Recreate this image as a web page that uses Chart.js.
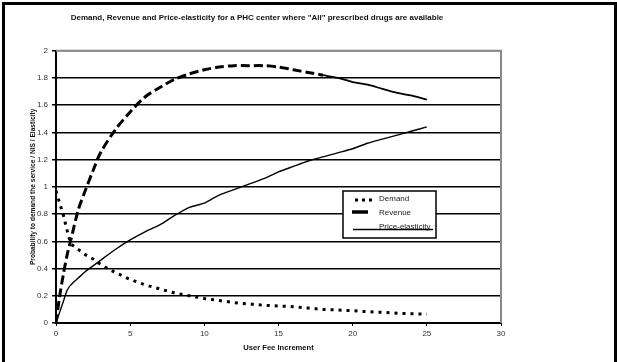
<!DOCTYPE html>
<html>
<head>
<meta charset="utf-8">
<script src="https://cdn.jsdelivr.net/npm/chart.js@4.4.1/dist/chart.umd.min.js"></script>
<style>
  html, body { margin: 0; padding: 0; background: #fff; }
  #wrap { position: relative; width: 617px; height: 362px; overflow: hidden; }
  #frame {
    position: absolute; left: 2px; top: 2px; width: 615px; height: 380px;
    box-sizing: border-box; border: 3px solid #000; pointer-events: none;
  }
  canvas { position: absolute; left: 0; top: 0; }
</style>
</head>
<body>
<div id="wrap">
  <canvas id="chart" width="617" height="362"></canvas>
  <div id="frame"></div>
</div>
<script>
const titleText = 'Demand, Revenue and Price-elasticity for a PHC center where "All" prescribed drugs are available';
const xTitle = "User Fee Increment";
const yTitle = "Probability to demand the service / NIS / Elasticity";

const feeSteps = [0, 0.25, 0.5, 0.75, 1, 1.5, 2, 2.5, 3, 4, 5, 6, 7, 8, 9, 10,
  11, 12, 13, 14, 15, 16, 17, 18, 19, 20, 21, 22, 23, 24, 25];
const demand = [0.97, 0.88, 0.79, 0.68, 0.58, 0.54, 0.5, 0.47, 0.43, 0.37, 0.32,
  0.28, 0.25, 0.22, 0.2, 0.18, 0.165, 0.15, 0.14, 0.13, 0.125, 0.12, 0.11, 0.1,
  0.095, 0.09, 0.083, 0.078, 0.072, 0.068, 0.065];
const revenue = [0, 0.2, 0.36, 0.5, 0.61, 0.83, 0.98, 1.12, 1.25, 1.42, 1.55,
  1.66, 1.73, 1.79, 1.83, 1.86, 1.88, 1.89, 1.89, 1.89, 1.88, 1.86, 1.84, 1.82,
  1.8, 1.77, 1.75, 1.72, 1.69, 1.67, 1.64];
const elasticity = [0, 0.08, 0.16, 0.24, 0.28, 0.33, 0.38, 0.42, 0.46, 0.54, 0.61,
  0.67, 0.72, 0.79, 0.85, 0.88, 0.94, 0.98, 1.02, 1.06, 1.11, 1.15, 1.19, 1.22,
  1.25, 1.28, 1.32, 1.35, 1.38, 1.41, 1.44];
const yTickLabels = ["0", "0.2", "0.4", "0.6", "0.8", "1", "1.2", "1.4", "1.6", "1.8", "2"];
const legendLabels = ["Demand", "Revenue", "Price-elasticity"];

function pts(vals) {
  return vals.map((v, i) => ({ x: feeSteps[i], y: v }));
}

// grey plot border on top/right, plus the boxed legend inside the plot
const extras = {
  id: "extras",
  afterDatasetsDraw(chart) {
    const ctx = chart.ctx;
    const a = chart.chartArea;
    ctx.save();
    ctx.strokeStyle = "#888";
    ctx.lineWidth = 2;
    ctx.beginPath();
    ctx.moveTo(a.left, a.top);
    ctx.lineTo(a.right, a.top);
    ctx.lineTo(a.right, a.bottom);
    ctx.stroke();

    const lx = 343, ly = 191, lw = 93, lh = 47;
    ctx.fillStyle = "#fff";
    ctx.fillRect(lx, ly, lw, lh);
    ctx.strokeStyle = "#000";
    ctx.lineWidth = 1.5;
    ctx.strokeRect(lx, ly, lw, lh);

    const rows = [200, 214, 228];
    ctx.strokeStyle = "#000";
    // demand
    ctx.lineWidth = 3;
    ctx.setLineDash([3, 4]);
    ctx.beginPath();
    ctx.moveTo(355, rows[0]);
    ctx.lineTo(376, rows[0]);
    ctx.stroke();
    // revenue
    ctx.setLineDash([]);
    ctx.lineWidth = 3.5;
    ctx.beginPath();
    ctx.moveTo(352, rows[1] - 2);
    ctx.lineTo(368, rows[1] - 2);
    ctx.stroke();
    // price-elasticity
    ctx.lineWidth = 1.5;
    ctx.beginPath();
    ctx.moveTo(353, rows[2] + 1.5);
    ctx.lineTo(433, rows[2] + 1.5);
    ctx.stroke();

    ctx.fillStyle = "#222";
    ctx.font = "8px 'Liberation Sans', Arial, sans-serif";
    ctx.textBaseline = "middle";
    legendLabels.forEach((t, i) => ctx.fillText(t, 379, rows[i] - 1));
    ctx.restore();
  }
};

const ctx = document.getElementById("chart").getContext("2d");
new Chart(ctx, {
  type: "line",
  data: {
    datasets: [
      {
        label: legendLabels[0],
        data: pts(demand),
        borderColor: "#000",
        borderWidth: 3,
        borderDash: [3, 5],
        borderCapStyle: "butt",
        pointRadius: 0,
        tension: 0
      },
      {
        label: legendLabels[1],
        data: pts(revenue),
        borderColor: "#000",
        borderWidth: 3,
        borderDash: [9, 4],
        pointRadius: 0,
        tension: 0.3,
        segment: {
          borderDash: c => (c.p0.parsed.x >= 18 ? [] : [9, 4]),
          borderWidth: c => (c.p0.parsed.x >= 18 ? 1.8 : 3)
        }
      },
      {
        label: legendLabels[2],
        data: pts(elasticity),
        borderColor: "#000",
        borderWidth: 1.4,
        pointRadius: 0,
        tension: 0.2
      }
    ]
  },
  options: {
    responsive: false,
    animation: false,
    layout: { padding: { left: 13, right: 116, top: 0, bottom: 0 } },
    plugins: {
      legend: { display: false },
      tooltip: { enabled: false },
      title: {
        display: true,
        text: titleText,
        color: "#111",
        font: { family: "'Liberation Sans', Arial, sans-serif", size: 8, weight: "bold" },
        padding: { top: 12.7, bottom: 28.4 }
      }
    },
    scales: {
      x: {
        type: "linear",
        min: 0,
        max: 30,
        ticks: {
          stepSize: 5,
          color: "#333",
          padding: 3,
          font: { family: "'Liberation Sans', Arial, sans-serif", size: 8 }
        },
        grid: { drawOnChartArea: false, tickLength: 3, color: "#000", lineWidth: 1 },
        border: { color: "#000", width: 2 },
        title: {
          display: true,
          text: xTitle,
          color: "#111",
          font: { family: "'Liberation Sans', Arial, sans-serif", size: 7.6, weight: "bold" },
          padding: { top: 0, bottom: 9.4 }
        },
        afterFit(s) { s.height = 39; }
      },
      y: {
        min: 0,
        max: 2,
        ticks: {
          stepSize: 0.2,
          color: "#333",
          padding: 4,
          font: { family: "'Liberation Sans', Arial, sans-serif", size: 8 },
          callback: (v, i) => yTickLabels[i]
        },
        grid: {
          color: c => (c.tick && c.tick.value >= 2 ? "#888" : "#000"),
          lineWidth: 1.5,
          tickLength: 4,
          tickColor: "#000"
        },
        border: { color: "#000", width: 2 },
        title: {
          display: true,
          text: yTitle,
          color: "#111",
          font: { family: "'Liberation Sans', Arial, sans-serif", size: 6.6, weight: "bold" },
          padding: { top: 16, bottom: 0 }
        },
        afterFit(s) { s.width = 43; }
      }
    }
  },
  plugins: [extras]
});
</script>
</body>
</html>
